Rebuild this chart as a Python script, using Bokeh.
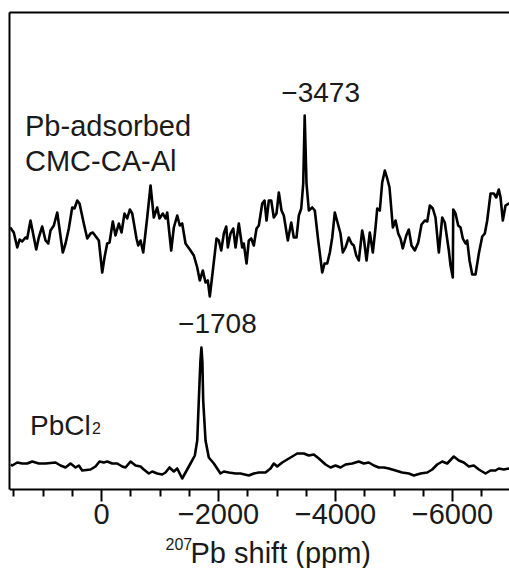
from bokeh.plotting import figure
from bokeh.models import Range1d, FixedTicker, LinearAxis, Label
from bokeh.embed import file_html
from bokeh.resources import INLINE

# 207Pb NMR spectra: chemical shift (ppm) and intensity (a.u., stacked)
top_ppm = [1560, 1500, 1440, 1400, 1356, 1300, 1270, 1214, 1116, 1072, 1014, 957, 911, 872, 815, 757,
           662, 615, 559, 501, 462, 415, 376, 303, 244, 188, 149, 46, -12, -51, -97, -137, -193, -239,
           -296, -342, -393, -439, -484, -525, -598, -627, -667, -713, -781, -838, -894, -952, -991,
           -1048, -1094, -1123, -1191, -1236, -1294, -1338, -1379, -1436, -1521, -1578, -1636, -1680,
           -1732, -1778, -1817, -1851, -1909, -1966, -2005, -2046, -2091, -2132, -2159, -2205, -2251,
           -2291, -2347, -2405, -2432, -2479, -2518, -2559, -2603, -2650, -2689, -2747, -2786, -2821,
           -2860, -2901, -2945, -2991, -3031, -3077, -3116, -3185, -3243, -3287, -3333, -3373, -3414,
           -3448, -3473, -3504, -3544, -3602, -3646, -3704, -3773, -3812, -3858, -3903, -3944, -3988,
           -4039, -4085, -4125, -4171, -4227, -4274, -4313, -4354, -4398, -4456, -4484, -4530, -4586,
           -4638, -4684, -4713, -4757, -4798, -4843, -4884, -4923, -4980, -5026, -5072, -5111, -5150,
           -5209, -5253, -5299, -5356, -5414, -5470, -5527, -5568, -5612, -5663, -5709, -5766, -5824,
           -5868, -5937, -5966, -6005, -6012, -6051, -6097, -6137, -6176, -6222, -6251, -6291, -6337,
           -6393, -6450, -6508, -6552, -6593, -6650, -6706, -6747, -6791, -6821, -6860, -6906, -6962,
           -7000]
top_int = [262, 257, 242, 250, 248, 252, 251, 269, 240, 252, 263, 249, 246, 259, 264, 277,
           237, 246, 261, 282, 281, 289, 286, 266, 251, 256, 257, 249, 217, 232, 246, 247, 268, 254,
           266, 257, 276, 271, 280, 276, 251, 244, 249, 237, 272, 304, 272, 282, 271,
           276, 271, 277, 239, 262, 274, 264, 266, 246, 239, 234, 222, 209,
           219, 207, 209, 193, 222, 251, 249, 239, 256, 263, 242, 256, 261,
           242, 266, 242, 246, 226, 249, 251, 244, 261, 264, 286, 289, 269,
           289, 289, 272, 276, 297, 279, 274, 249, 267, 252, 252, 274, 281,
           306, 374, 306, 279, 282, 279, 249, 217, 226, 226, 237, 252, 277,
           266, 256, 237, 242, 252, 246, 244, 234, 229, 259, 251, 229, 257,
           237, 262, 281, 279, 307, 319, 311, 302, 262, 269, 256, 251, 241,
           254, 260, 244, 239, 247, 265, 269, 268, 284, 281, 272, 237, 272,
           267, 239, 224, 212, 280, 276, 264, 262, 251, 246, 249, 229, 215,
           215, 236, 253, 256, 269, 296, 296, 292, 300, 292, 269, 284, 286,
           286]

bot_ppm = [1550, 1526, 1441, 1356, 1270, 1185, 1072, 957, 786, 701, 615, 530, 444, 388, 330, 188, 103,
           34, -39, -97, -183, -268, -354, -410, -496, -581, -667, -723, -809, -867, -952, -1038,
           -1094, -1162, -1236, -1294, -1379, -1436, -1521, -1595, -1636, -1663, -1690, -1708, -1724,
           -1738, -1778, -1834, -1920, -2034, -2091, -2176, -2291, -2376, -2518, -2603, -2689, -2803,
           -2889, -2945, -3003, -3089, -3174, -3260, -3345, -3458, -3544, -3629, -3715, -3829, -3915,
           -4000, -4085, -4171, -4285, -4398, -4484, -4569, -4655, -4740, -4826, -4911, -5026, -5140,
           -5253, -5339, -5453, -5568, -5653, -5738, -5824, -5909, -6022, -6108, -6193, -6279, -6364,
           -6450, -6564, -6650, -6735, -6791, -6877, -6962, -7000]
bot_int = [25, 24, 27, 26, 26, 28, 26, 26, 27, 24, 22, 26, 22, 24, 19, 20, 23,
           28, 27, 28, 26, 26, 23, 22, 28, 24, 23, 20, 16, 18, 16, 15,
           17, 22, 18, 21, 11, 17, 26, 34, 49, 89, 128, 142, 128,
           89, 49, 32, 26, 16, 18, 17, 16, 16, 14, 16, 17, 17,
           21, 26, 23, 27, 30, 33, 36, 36, 34, 35, 31, 25, 22,
           24, 22, 25, 26, 28, 26, 27, 24, 22, 22, 21, 19, 17,
           16, 14, 16, 17, 20, 25, 28, 26, 33, 29, 27, 23, 24,
           20, 16, 19, 19, 21, 20, 21, 21]

major_ticks = [0, -2000, -4000, -6000]
major_labels = ["0", "\u22122000", "\u22124000", "\u22126000"]
minor_ticks = [1500, 1000, 500, -500, -1000, -1500, -2500, -3000, -3500,
               -4500, -5000, -5500, -6500]
x_title_sup = "207"
x_title = "Pb shift (ppm)"

peak_top = (-3473, 374, "\u22123473")
peak_bot = (-1708, 142, "\u22121708")

FONT = "Liberation Sans"
TXT = "#1a1a1a"

p = figure(width=509, height=568, x_range=Range1d(1573, -6974), y_range=Range1d(-79, 477),
           output_backend="svg", toolbar_location=None,
           min_border_left=9, min_border_right=0, min_border_top=12, min_border_bottom=0,
           outline_line_color=None, background_fill_color="white", border_fill_color="white")
p.grid.visible = False

p.line(top_ppm, top_int, line_color="black", line_width=2.6, line_join="round")
p.line(bot_ppm, bot_int, line_color="black", line_width=2.6, line_join="round")

# bottom axis, drawn at intensity 0 (frame continues below to hold the title)
xa = p.xaxis[0]
xa.fixed_location = 0
xa.ticker = FixedTicker(ticks=major_ticks, minor_ticks=minor_ticks)
xa.major_label_overrides = dict(zip(major_ticks, major_labels))
xa.axis_line_width = 2
xa.axis_line_color = "black"
xa.major_tick_line_width = 2
xa.minor_tick_line_width = 2
xa.major_tick_in = 0
xa.major_tick_out = 12
xa.minor_tick_in = 0
xa.minor_tick_out = 7
xa.major_label_text_font = FONT
xa.major_label_text_font_size = "29px"
xa.major_label_text_color = TXT
xa.major_label_standoff = 2

# left axis: line only, from the baseline up
ya = p.yaxis[0]
ya.ticker = FixedTicker(ticks=[])
ya.major_label_text_font_size = "0px"
ya.major_tick_line_color = None
ya.minor_tick_line_color = None
ya.axis_line_width = 2
ya.axis_line_color = "black"
ya.bounds = (0, 477)

# top border as an axis
ta = LinearAxis(ticker=FixedTicker(ticks=[]), major_label_text_font_size="0px",
                major_tick_line_color=None, minor_tick_line_color=None,
                axis_line_width=2, axis_line_color="black")
p.add_layout(ta, "above")

def lab(x, y, text, size="28px", align="left", xo=0, yo=0):
    p.add_layout(Label(x=x, y=y, text=text, x_offset=xo, y_offset=yo + 10,
                       text_font=FONT, text_font_size=size, text_color=TXT,
                       text_align=align, text_baseline="alphabetic"))

# peak labels
lab(peak_top[0], peak_top[1], peak_top[2], align="center", xo=16, yo=13)
lab(peak_bot[0], peak_bot[1], peak_bot[2], align="center", xo=16, yo=14)

# sample names
lab(1308, 354, "Pb-adsorbed", size="29px")
lab(1308, 319, "CMC-CA-Al", size="29px")
lab(1222, 54, "PbCl")
lab(1222, 54, "2", size="16px", xo=62, yo=-2)

# x-axis title with superscript mass number
lab(-1094, -64, x_title_sup, size="16px")
lab(-1521, -73.5, x_title, size="29px")

open("out.html", "w").write(file_html(p, INLINE))
